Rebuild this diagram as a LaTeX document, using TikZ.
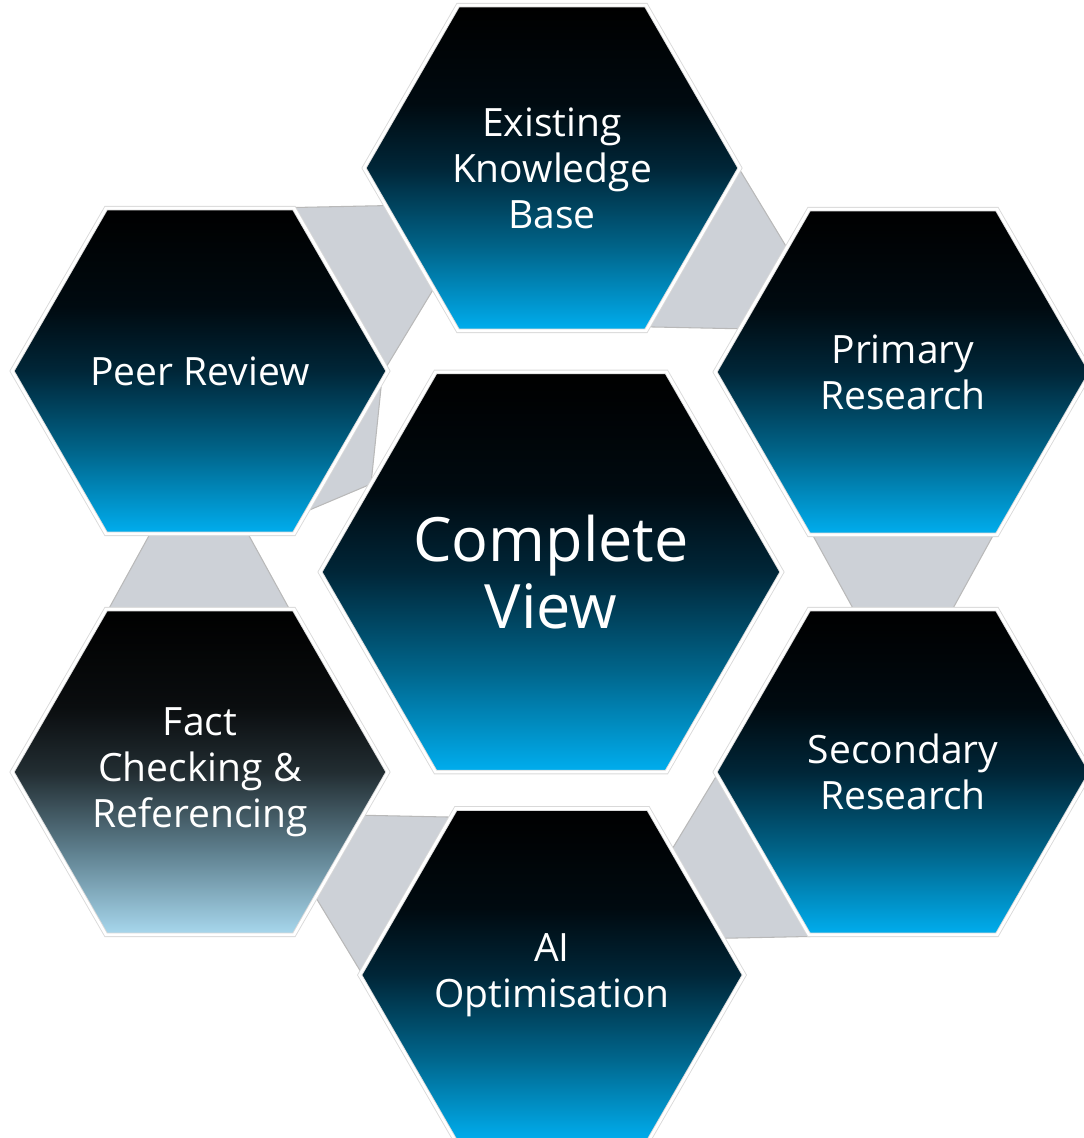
\documentclass[tikz,border=0pt]{standalone}
\usepackage{fontspec}
\setmainfont{Open Sans}
\usetikzlibrary{shapes.geometric,backgrounds}
\definecolor{hexcyan}{RGB}{0,174,239}
\definecolor{hexmid}{RGB}{0,102,140}
\definecolor{hexdark}{RGB}{0,38,56}
\definecolor{hexdeep}{RGB}{0,10,16}
\definecolor{paleblue}{RGB}{168,216,238}
\definecolor{palemid}{RGB}{96,130,145}
\definecolor{paledark}{RGB}{34,45,50}
\definecolor{paledeep}{RGB}{10,13,15}
\definecolor{linkgray}{RGB}{205,209,215}
\pgfdeclareverticalshading{hexblue}{100bp}{color(0bp)=(hexcyan); color(25bp)=(hexcyan); color(37.5bp)=(hexmid); color(50bp)=(hexdark); color(60bp)=(hexdeep); color(75bp)=(black); color(100bp)=(black)}
\pgfdeclareverticalshading{hexpale}{100bp}{color(0bp)=(paleblue); color(25bp)=(paleblue); color(37.5bp)=(palemid); color(50bp)=(paledark); color(60bp)=(paledeep); color(75bp)=(black); color(100bp)=(black)}
\tikzset{
  hexcell/.style={regular polygon, regular polygon sides=6, minimum size=37.6mm, inner sep=0pt, outer sep=0pt,
    shade, shading=hexblue, draw=gray!30, double=white, double distance=0.8pt, line width=0.25pt,
    text=white, align=center, font=\fontsize{11.1}{13.1}\selectfont},
  hubcell/.style={hexcell, minimum size=46.2mm, font=\fontsize{17.4}{19}\selectfont},
  linkbar/.style={fill=linkgray, draw=gray!55, line width=0.3pt}
}
\begin{document}
\begin{tikzpicture}[x=0.1mm,y=-0.1mm]
\useasboundingbox (0,0) rectangle (1084,1138);
\node[hubcell] (hub) at (551,572) {Complete\\View};
\node[hexcell] (existing) at (552,168) {Existing\\Knowledge\\Base};
\node[hexcell] (primary) at (903,372) {Primary\\Research};
\node[hexcell] (secondary) at (903,772) {Secondary\\Research};
\node[hexcell] (aiopt) at (552,975) {AI\\Optimisation};
\node[hexcell, shading=hexpale] (factcheck) at (200,772) {Fact\\Checking \&\\Referencing};
\node[hexcell] (peer) at (200,371) {Peer Review};
\begin{scope}[on background layer]
\foreach \turn in {-120,-60,0,60,120,180}
  \draw[linkbar, shift={(hub.center)}, rotate=\turn] (-397.25,-45) -- (-306.75,-45) -- (-257.25,45) -- (-446.75,45) -- cycle;
\draw[linkbar, shift={(hub.center)}] (-170,-184) -- (-180,-88) -- (-251,-58) -- (-261,-92) -- cycle;
\end{scope}
\end{tikzpicture}
\end{document}
